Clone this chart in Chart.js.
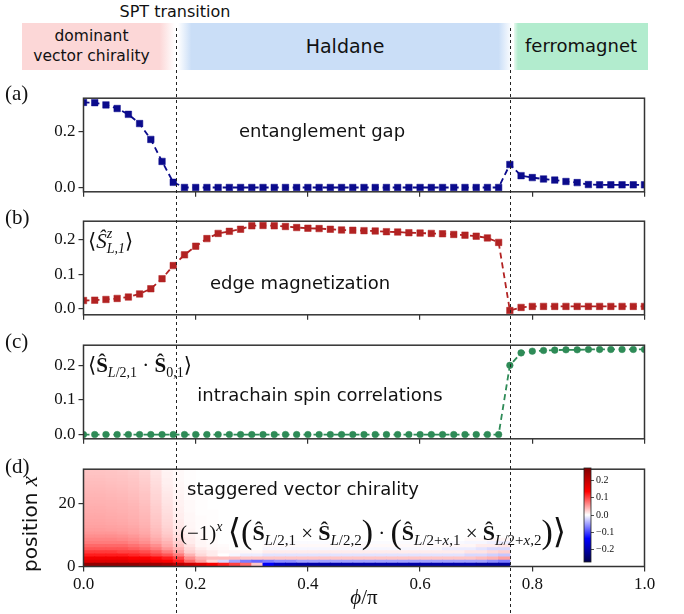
<!DOCTYPE html>
<html><head><meta charset="utf-8">
<script src="https://cdn.jsdelivr.net/npm/chart.js@4.4.1/dist/chart.umd.min.js"></script>
<style>
html,body{margin:0;padding:0;background:#fff;}
body{width:684px;height:614px;position:relative;overflow:hidden;}
canvas{position:absolute;}
.box{position:absolute;top:23px;height:47px;display:flex;align-items:center;justify-content:center;text-align:center;font-family:'DejaVu Sans',sans-serif;color:#111;line-height:1.25;z-index:1;}
#spt{position:absolute;top:2px;left:105px;width:140px;text-align:center;font-family:'DejaVu Sans',sans-serif;font-size:16px;color:#111;}
</style></head><body>
<div id="spt">SPT transition</div>
<div class="box" style="left:22px;width:153px;font-size:15.5px;background:linear-gradient(to right,#fcd7d7 0%,#fcd7d7 90%,rgba(252,215,215,0) 100%);"><span style="margin-right:14px">dominant<br>vector chirality</span></div>
<div class="box" style="left:178px;width:334px;font-size:19px;background:linear-gradient(to right,rgba(202,222,247,0) 0%,#cadef7 4%,#cadef7 96%,rgba(202,222,247,0) 100%);">Haldane</div>
<div class="box" style="left:514px;width:134px;font-size:18px;background:linear-gradient(to right,rgba(178,236,206,0.3) 0%,#b2ecce 3%,#b2ecce 100%);">ferromagnet</div>

<canvas id="ca" width="684" height="120" style="left:0;top:85px"></canvas>
<canvas id="cb" width="684" height="120" style="left:0;top:208px"></canvas>
<canvas id="cc" width="684" height="120" style="left:0;top:332px"></canvas>
<canvas id="cd" width="684" height="158" style="left:0;top:456px"></canvas>
<canvas id="cbar" width="80" height="120" style="left:560px;top:455px"></canvas>
<canvas id="ov" width="684" height="614" style="left:0;top:0;z-index:5;pointer-events:none"></canvas>
<script>
// ---------------- data ----------------
const phi = [0,0.02,0.04,0.06,0.08,0.1,0.12,0.14,0.16,0.18,0.2,0.22,0.24,0.26,0.28,0.3,0.32,0.34,0.36,0.38,0.4,0.42,0.44,0.46,0.48,0.5,0.52,0.54,0.56,0.58,0.6,0.62,0.64,0.66,0.68,0.7,0.72,0.74,0.76,0.78,0.8,0.82,0.84,0.86,0.88,0.9,0.92,0.94,0.96,0.98,1.0];

const entanglementGap = [0.306,0.305,0.297,0.284,0.263,0.230,0.173,0.094,0.019,
  0.0005,0.0005,0.0005,0.0005,0.0005,0.0005,0.0005,0.0005,0.0005,0.0005,
  0.0005,0.0005,0.0005,0.0005,0.0005,0.0005,0.0005,0.0005,0.0005,0.0005,
  0.0005,0.0005,0.0005,0.0005,0.0005,0.0005,0.0005,0.0005,0.0005,
  0.083,0.043,0.036,0.031,0.027,0.022,0.018,0.011,0.010,0.010,0.010,0.010,0.010];

const edgeMagnetization = [0.024,0.025,0.027,0.030,0.034,0.043,0.058,0.087,0.125,0.156,0.181,0.203,0.218,0.224,0.230,0.240,0.241,0.240,0.238,0.235,0.233,0.232,0.230,0.228,0.227,0.226,0.225,0.223,0.222,0.220,0.219,0.218,0.217,0.215,0.213,0.210,0.205,0.192,
  -0.005,0.004,0.007,0.007,0.007,0.007,0.007,0.007,0.007,0.007,0.007,0.007,0.007];

const spinCorrelations = [0,0,0,0,0,0,0,0,0,0,0,0,0,0,0,0,0,0,0,0,0,0,0,0,0,0,0,0,0,0,0,0,0,0,0,0,0,0,
  0.200,0.236,0.241,0.243,0.244,0.245,0.245,0.246,0.246,0.246,0.246,0.246,0.246];

// staggered vector chirality x100, row index = position x (0..30), column = phi[c] .. phi[c]+0.02
const chiralityRows = [
 [25,25,25,25,25,24,24,23,21,19,17,14,12,10,8,3,-14,-18,-19,-20,-20,-20,-20,-20,-20,-20,-20,-20,-20,-20,-20,-20,-20,-20,-20,-21,-21,-21],
 [17,17,17,17,16,16,15,14,12,8,5,2,-2,-5,-7,-8,-7,-6,-6,-5,-5,-5,-5,-5,-5,-5,-5,-5,-5,-5,-5,-5,-5,-5,-5,-5,-6,-7],
 [15,15,15,15,14,14,13,12,10,6,4,3.5,3.5,3.5,3,3,3,3,3,3,3,3,3,3,3,3,3,3,3,3,3,3,3,3,3,3.5,4,5],
 [12,12,12,12,11.5,11,10,9,7,4,2,1,0,-0.5,-1,-1,-1.5,-1.5,-1.5,-1.5,-1.5,-1.5,-1.5,-1.5,-1.5,-1.5,-1.5,-1.5,-1.5,-1.5,-1.5,-1.5,-1.5,-1.5,-2,-2,-2.5,-3],
 [10.5,10.5,10.5,10,10,9.5,8.5,7,5,2.5,1.5,1,0.5,0.5,0.5,0.5,1,1,1,1,1,1,1,1,1,1,1,1,1,1,1,1,1,1,1.5,1.5,2,2.5],
 [9,9,9,9,8.5,8,7,5.5,4,2,1,0.5,0.3,0,0,0,-0.5,-0.5,-0.5,-0.5,-0.5,-0.5,-0.5,-0.5,-0.5,-0.5,-0.5,-0.5,-0.5,-0.5,-0.5,-0.5,-1,-1,-1,-1.5,-2,-2],
 [8,8,8,8,7.5,7,6,4.5,3,1.5,0.5,0.3,0.2,0,0,0,0.3,0.3,0.3,0.3,0.3,0.3,0.3,0.3,0.3,0.3,0.3,0.3,0.3,0.3,0.3,0.3,0.5,0.5,0.5,1,1,1.5],
 [7,7,7,7,6.5,6,5,4,2.5,1,0.5,0.2,0,0,0,0,-0.2,-0.2,-0.2,-0.2,-0.2,-0.2,-0.2,-0.2,-0.2,-0.2,-0.2,-0.2,-0.2,-0.2,-0.2,-0.2,-0.3,-0.3,-0.5,-0.5,-0.8,-1],
 [6.5,6.5,6.5,6.3,6,5.5,4.5,3.5,2,1,0.4,0.2,0,0,0,0,0,0,0,0,0,0,0,0,0,0,0,0,0,0,0,0,0,0,0.3,0.3,0.5,0.5],
 [6,6,6,5.8,5.5,5,4,3,1.8,0.8,0.3,0.1],
 [5.5,5.5,5.5,5.3,5,4.6,3.7,2.7,1.5,0.7,0.3,0.1],
 [5.2,5.2,5.1,5,4.8,4.4,3.5,2.5,1.3,0.6,0.2,0.1],
 [5,5,4.9,4.8,4.6,4.2,3.3,2.3,1.2,0.5,0.2,0.1],
 [4.8,4.8,4.7,4.6,4.4,4.0,3.1,2.1,1.1,0.5,0.2,0.1],
 [4.7,4.7,4.6,4.5,4.3,3.9,3.0,2.0,1.0,0.4,0.2,0.1],
 [4.6,4.6,4.5,4.4,4.2,3.8,2.9,1.9,0.9,0.4,0.2,0.1],
 [4.5,4.5,4.4,4.3,4.1,3.7,2.8,1.8,0.9,0.4,0.1,0.1],
 [4.4,4.4,4.3,4.2,4.0,3.6,2.7,1.7,0.8,0.3,0.1,0.1],
 [4.3,4.3,4.2,4.1,3.9,3.5,2.6,1.6,0.8,0.3,0.1],
 [4.2,4.2,4.1,4.0,3.8,3.4,2.5,1.5,0.7,0.3,0.1],
 [4.1,4.1,4.0,3.9,3.7,3.3,2.4,1.4,0.7,0.3,0.1],
 [4.0,4.0,3.9,3.8,3.6,3.2,2.3,1.3,0.6,0.2,0.1],
 [3.9,3.9,3.8,3.7,3.5,3.1,2.2,1.2,0.6,0.2,0.1],
 [3.8,3.8,3.7,3.6,3.4,3.0,2.1,1.1,0.5,0.2],
 [3.7,3.7,3.6,3.5,3.3,2.9,2.0,1.0,0.5,0.2],
 [3.6,3.6,3.5,3.4,3.2,2.8,1.9,0.9,0.4,0.2],
 [3.5,3.5,3.4,3.3,3.1,2.7,1.8,0.8,0.4,0.1],
 [3.4,3.4,3.3,3.2,3.0,2.6,1.7,0.8,0.3,0.1],
 [3.3,3.3,3.2,3.1,2.9,2.5,1.6,0.7,0.3,0.1],
 [3.2,3.2,3.1,3.0,2.8,2.4,1.5,0.7,0.3,0.1],
 [3.1,3.1,3.0,2.9,2.7,2.3,1.4,0.6,0.3,0.1]
];

const xTicks = [0,0.2,0.4,0.6,0.8,1.0];
const ticksA = [0,0.2];
const ticksB = [0,0.1,0.2];
const ticksC = [0,0.1,0.2];
const ticksD = [0,20];
const ticksBar = [-0.2,-0.1,0,0.1,0.2];
const transitions = [0.165,0.761];
const VMAX = 0.27;

// ---------------- styles ----------------
const SERIF = "'Liberation Serif','DejaVu Serif',serif";
const SANS = "'DejaVu Sans',sans-serif";
const X0 = 83.5, X1 = 644.5;
const AX = '#333';
const F = (sz, st) => (st ? st + ' ' : '') + sz + 'px ' + SERIF;

function seismic(v) {
  let n = (v + VMAX) / (2 * VMAX); n = Math.max(0, Math.min(1, n));
  let r, g, b;
  if (n < 0.25) { const t = n / 0.25; r = 0; g = 0; b = 0.3 + 0.7 * t; }
  else if (n < 0.5) { const t = (n - 0.25) / 0.25; r = t; g = t; b = 1; }
  else if (n < 0.75) { const t = (n - 0.5) / 0.25; r = 1; g = 1 - t; b = 1 - t; }
  else { const t = (n - 0.75) / 0.25; r = 1 - 0.5 * t; g = 0; b = 0; }
  return 'rgb(' + Math.round(r * 255) + ',' + Math.round(g * 255) + ',' + Math.round(b * 255) + ')';
}

const framePlugin = {
  id: 'frame',
  afterDraw(chart) {
    const a = chart.chartArea, c = chart.ctx;
    c.save(); c.strokeStyle = AX; c.lineWidth = 1.5;
    c.strokeRect(a.left, a.top, a.right - a.left, a.bottom - a.top);
    c.restore();
  }
};

function fmt1(v) { return (v < 0 ? '\u2212' : '') + Math.abs(v).toFixed(1); }

function xScale(height, showLabels) {
  return {
    type: 'linear', min: 0, max: 1, position: 'bottom', offset: false,
    afterBuildTicks: s => { s.ticks = xTicks.map(v => ({ value: v })); },
    afterFit: s => { s.height = height; },
    border: { display: false },
    grid: { offset: false, drawOnChartArea: false, drawTicks: true, tickLength: 5, color: AX, lineWidth: 1.2 },
    ticks: { display: showLabels, font: { family: SERIF, size: 17 }, color: '#111', padding: 3, maxRotation: 0, callback: v => fmt1(v) }
  };
}
function yScale(min, max, ticks, fmt) {
  return {
    type: 'linear', min: min, max: max,
    afterBuildTicks: s => { s.ticks = ticks.map(v => ({ value: v })); },
    afterFit: s => { s.width = X0; },
    border: { display: false },
    grid: { drawOnChartArea: false, drawTicks: true, tickLength: 5, color: AX, lineWidth: 1.2 },
    ticks: { font: { family: SERIF, size: 17 }, color: '#111', padding: 3, callback: fmt }
  };
}

function lineChart(id, cTop, cH, top, bottom, vals, color, ptStyle, ptR, yMin, yMax, yTicks) {
  return new Chart(document.getElementById(id), {
    type: 'scatter',
    data: { datasets: [{
      data: phi.map((x, i) => ({ x: x, y: vals[i] })),
      showLine: true, borderColor: color, backgroundColor: color, borderWidth: 1.8, borderDash: [6, 4],
      pointStyle: ptStyle, pointRadius: ptR, pointBackgroundColor: color, pointBorderColor: color, pointBorderWidth: 0.5,
      clip: 0, tension: 0
    }] },
    options: {
      animation: false, responsive: false, devicePixelRatio: 1,
      layout: { padding: { left: 0, top: top - cTop, right: 684 - X1, bottom: 0 } },
      plugins: { legend: { display: false }, tooltip: { enabled: false } },
      scales: { x: xScale(cTop + cH - bottom, false), y: yScale(yMin, yMax, yTicks, v => fmt1(v)) }
    },
    plugins: [framePlugin]
  });
}

const chA = lineChart('ca', 85, 120, 92.5, 194.5, entanglementGap, '#0b0b8c', 'rect', 4.6, -0.015, 0.321, ticksA);
const chB = lineChart('cb', 208, 120, 216, 318.5, edgeMagnetization, '#b22222', 'rect', 4.6, -0.0173, 0.2533, ticksB);
const chC = lineChart('cc', 332, 120, 339.5, 442.5, spinCorrelations, '#2e8b57', 'circle', 3.3, -0.0123, 0.2583, ticksC);

// heatmap (d)
const colLabels = phi.slice(0, 50).map(String);
const heatDatasets = chiralityRows.map((row, k) => ({
  data: row.map(() => [k, k + 1]),
  backgroundColor: row.map(v => seismic(v / 100)),
  xAxisID: 'xc', yAxisID: 'y', grouped: false,
  barPercentage: 1, categoryPercentage: 1, borderWidth: 0, inflateAmount: 0.5
}));
const chD = new Chart(document.getElementById('cd'), {
  type: 'bar',
  data: { labels: colLabels, datasets: heatDatasets },
  options: {
    animation: false, responsive: false, devicePixelRatio: 1,
    layout: { padding: { left: 0, top: 464 - 456, right: 684 - X1, bottom: 0 } },
    plugins: { legend: { display: false }, tooltip: { enabled: false } },
    scales: {
      xc: { type: 'category', display: false, offset: true, grid: { offset: true } },
      x: xScale(614 - 566.5, true),
      y: yScale(0, 31, ticksD, v => String(v))
    }
  },
  plugins: [framePlugin]
});

// colorbar
const gradPlugin = {
  id: 'grad',
  beforeDatasetsDraw(chart) {
    const a = chart.chartArea, c = chart.ctx, s = chart.scales.y;
    const g = c.createLinearGradient(0, a.bottom, 0, a.top);
    for (let i = 0; i <= 40; i++) { const v = s.min + (s.max - s.min) * i / 40; g.addColorStop(i / 40, seismic(v)); }
    c.save(); c.fillStyle = g; c.fillRect(a.left, a.top, a.right - a.left, a.bottom - a.top);
    c.strokeStyle = '#222'; c.lineWidth = 0.8; c.strokeRect(a.left, a.top, a.right - a.left, a.bottom - a.top);
    c.restore();
  }
};
const chBar = new Chart(document.getElementById('cbar'), {
  type: 'bar',
  data: { labels: [''], datasets: [] },
  options: {
    animation: false, responsive: false, devicePixelRatio: 1,
    layout: { padding: { left: 24, top: 13, right: 0, bottom: 13 } },
    plugins: { legend: { display: false }, tooltip: { enabled: false } },
    scales: {
      x: { display: false },
      y: { type: 'linear', position: 'right', min: -VMAX, max: VMAX,
        afterBuildTicks: s => { s.ticks = ticksBar.map(v => ({ value: v })); },
        afterFit: s => { s.width = 49; },
        border: { display: false },
        grid: { drawOnChartArea: false, tickLength: 3, color: '#222', lineWidth: 0.8 },
        ticks: { font: { family: SERIF, size: 10 }, color: '#111', padding: 2, callback: v => fmt1(v) } }
    }
  },
  plugins: [gradPlugin]
});

// ---------------- overlay: transitions, labels, annotations ----------------
const ov = document.getElementById('ov').getContext('2d');
function rich(ctx, x, y, segs, align) {
  const run = (draw, x0) => {
    let xx = x0, stackStart = null, stackW = 0;
    for (const s of segs) {
      ctx.font = s.f;
      const w = ctx.measureText(s.t).width;
      if (stackStart !== null) {
        if (draw) ctx.fillText(s.t, stackStart, y + (s.dy || 0));
        xx = stackStart + Math.max(stackW, w);
        stackStart = null; continue;
      }
      if (draw) ctx.fillText(s.t, xx, y + (s.dy || 0));
      if (s.k) { stackStart = xx; stackW = w; } else xx += w;
    }
    return xx - x0;
  };
  const w = run(false, 0);
  const sx = align === 'center' ? x - w / 2 : x;
  run(true, sx);
}

ov.fillStyle = '#111';
ov.textBaseline = 'alphabetic';
// transition lines
ov.save();
ov.strokeStyle = '#222'; ov.lineWidth = 1; ov.setLineDash([3, 3]);
transitions.forEach(t => {
  const px = Math.round(chA.scales.x.getPixelForValue(t)) + 0.5;
  ov.beginPath(); ov.moveTo(px, 28); ov.lineTo(px, 614); ov.stroke();
});
ov.restore();

// panel labels
ov.font = F(21);
ov.textAlign = 'left';
[['(a)', 100], ['(b)', 224], ['(c)', 348], ['(d)', 473]].forEach(([t, y]) => ov.fillText(t, 5, y));

// sans annotations
ov.font = '18px ' + SANS;
ov.textAlign = 'center';
ov.fillText('entanglement gap', 322, 137);
ov.fillText('edge magnetization', 300, 289);
ov.fillText('intrachain spin correlations', 320, 401);
ov.textAlign = 'left';
ov.fillText('staggered vector chirality', 187, 495);

// math labels
rich(ov, 88, 248, [
  { t: '\u27E8', f: F(21) }, { t: '\u015C', f: F(21, 'italic') },
  { t: 'z', f: F(14, 'italic'), dy: -10, k: 1 }, { t: 'L,1', f: F(14, 'italic'), dy: 5 },
  { t: '\u27E9', f: F(21) }
]);
rich(ov, 88, 372, [
  { t: '\u27E8', f: F(21) }, { t: '\u015C', f: F(21, 'bold') },
  { t: 'L', f: F(14, 'italic'), dy: 5 }, { t: '/2,1', f: F(14), dy: 5 },
  { t: ' \u00B7 ', f: F(21) }, { t: '\u015C', f: F(21, 'bold') },
  { t: '0,1', f: F(14), dy: 5 }, { t: '\u27E9', f: F(21) }
]);
const S = F(22, 'bold'), sub = F(15), subi = F(15, 'italic'), big = F(34), n21 = F(21);
rich(ov, 180, 540, [
  { t: '(\u22121)', f: n21 }, { t: 'x', f: F(14, 'italic'), dy: -9 }, { t: ' ', f: n21 },
  { t: '\u27E8', f: big, dy: 3 }, { t: '(', f: big, dy: 3 },
  { t: '\u015C', f: S }, { t: 'L', f: subi, dy: 5 }, { t: '/2,1', f: sub, dy: 5 },
  { t: ' \u00D7 ', f: n21 }, { t: '\u015C', f: S }, { t: 'L', f: subi, dy: 5 }, { t: '/2,2', f: sub, dy: 5 },
  { t: ')', f: big, dy: 3 }, { t: ' \u00B7 ', f: n21 }, { t: '(', f: big, dy: 3 },
  { t: '\u015C', f: S }, { t: 'L', f: subi, dy: 5 }, { t: '/2+', f: sub, dy: 5 }, { t: 'x', f: subi, dy: 5 }, { t: ',1', f: sub, dy: 5 },
  { t: ' \u00D7 ', f: n21 }, { t: '\u015C', f: S }, { t: 'L', f: subi, dy: 5 }, { t: '/2+', f: sub, dy: 5 }, { t: 'x', f: subi, dy: 5 }, { t: ',2', f: sub, dy: 5 },
  { t: ')', f: big, dy: 3 }, { t: '\u27E9', f: big, dy: 3 }
]);

// axis titles
rich(ov, 364, 604, [{ t: '\u03D5', f: F(21, 'italic') }, { t: '/\u03C0', f: F(21) }], 'center');
ov.save();
ov.translate(37, 524); ov.rotate(-Math.PI / 2);
rich(ov, 0, 0, [{ t: 'position ', f: '20px ' + SANS }, { t: 'x', f: F(23, 'italic') }], 'center');
ov.restore();
</script>
</body></html>
